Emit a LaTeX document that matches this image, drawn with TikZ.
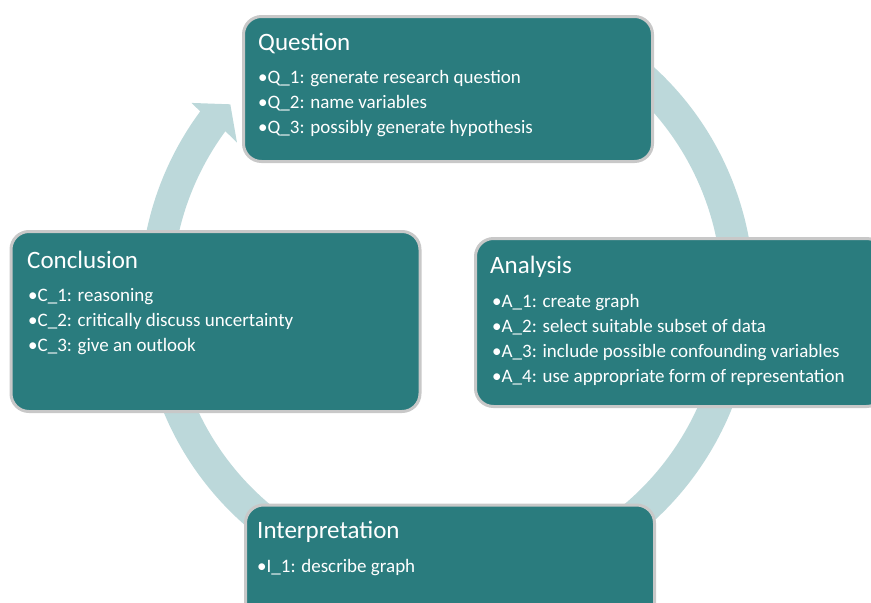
\documentclass[tikz,border=0pt]{standalone}
\usepackage{fontspec}
\setmainfont{Carlito}
\usetikzlibrary{calc}

\definecolor{boxteal}{RGB}{42,124,126}
\definecolor{ringblue}{RGB}{188,216,218}
\definecolor{rimgray}{RGB}{200,200,200}

\begin{document}
\begin{tikzpicture}[x=1pt,y=-1pt,
    stage/.style={draw=rimgray, line width=3pt, fill=boxteal, rounded corners=18pt, minimum width=409pt, inner sep=0pt},
    heading/.style={anchor=base west, inner sep=0pt, text=white, font=\fontsize{25}{30}\selectfont},
    item/.style={anchor=base west, inner sep=0pt, text=white, font=\fontsize{19}{22}\selectfont}]
  \clip (0,0) rectangle (871,603);

  %% the cycle ring, drawn first so the boxes sit on it
  \coordinate (hub) at (447,294);
  \fill[ringblue] ($(hub)+(-60:307)$) arc[start angle=-60, end angle=216.5, radius=307]
    -- ($(hub)+(216.8:319)$) -- ($(hub)+(221.2:288)$) -- ($(hub)+(215.8:259)$) -- ($(hub)+(216.3:275)$)
    arc[start angle=216.3, end angle=-60, radius=275] -- cycle;

  \node[stage, minimum height=145pt] (question) at (448,89) {};
  \node[stage, minimum height=168pt] (analysis) at (680,322.5) {};
  \node[stage, minimum height=180pt] (conclusion) at (215.5,321.5) {};
  \node[stage, minimum height=150pt] (interpretation) at (450,580) {};

  \node[heading] (question-title) at (258,50) {Question};
  \foreach \line [count=\k] in {Q\_1: generate research question, Q\_2: name variables, Q\_3: possibly generate hypothesis}
    \node[item] (question-\k) at (258,58+25*\k) {•\line};

  \node[heading] (analysis-title) at (490,273) {Analysis};
  \foreach \line [count=\k] in {A\_1: create graph, A\_2: select suitable subset of data, A\_3: include possible confounding variables, A\_4: use appropriate form of representation}
    \node[item] (analysis-\k) at (492,282+25*\k) {•\line};

  \node[heading] (conclusion-title) at (27,268) {Conclusion};
  \foreach \line [count=\k] in {C\_1: reasoning, C\_2: critically discuss uncertainty, C\_3: give an outlook}
    \node[item] (conclusion-\k) at (28,276+25*\k) {•\line};

  \node[heading] (interpretation-title) at (257,538) {Interpretation};
  \node[item] (interpretation-1) at (257,572) {•I\_1: describe graph};
  %\draw[red] (0,300)--(871,300); %guide line
\end{tikzpicture}
\end{document}
